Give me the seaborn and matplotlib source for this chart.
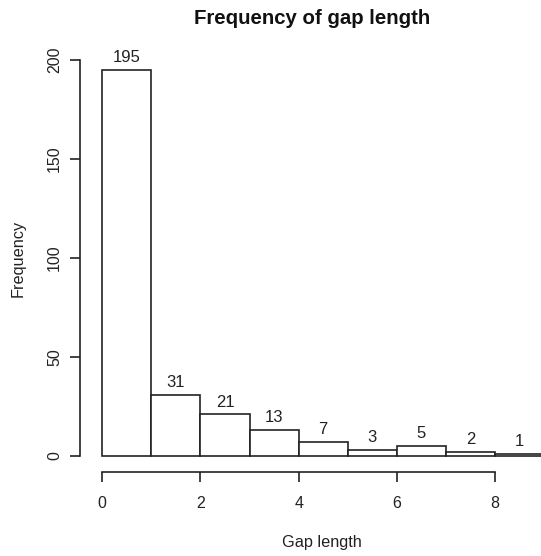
import numpy as np
import pandas as pd
import matplotlib
matplotlib.use("Agg")
import matplotlib.pyplot as plt
import seaborn as sns

# histogram counts for gap length, bins of width 1 from 0 to 9
bin_edges = [0, 1, 2, 3, 4, 5, 6, 7, 8, 9]
counts = [195, 31, 21, 13, 7, 3, 5, 2, 1]
x_ticks = [0, 2, 4, 6, 8]
y_ticks = [0, 50, 100, 150, 200]

sns.set_style("white")
plt.rcParams["font.family"] = ["Liberation Sans", "DejaVu Sans"]

W, H = 541, 556
fig = plt.figure(figsize=(W / 100, H / 100), dpi=100)
# R-style plot region (right side runs off the picture)
left, right, top, bottom = 80, 562, 54.5, 471.5
ax = fig.add_axes([left / W, 1 - bottom / H, (right - left) / W, (bottom - top) / H])

df = pd.DataFrame({
    "mid": [(a + b) / 2 for a, b in zip(bin_edges[:-1], bin_edges[1:])],
    "count": counts,
})
sns.histplot(data=df, x="mid", weights="count", bins=bin_edges, ax=ax,
             color="white", edgecolor="#222222", linewidth=1.2, alpha=1)

for m, c in zip(df["mid"], df["count"]):
    ax.text(m, c + 2.5, str(c), ha="center", va="bottom", fontsize=12, color="#222222")

ax.set_xlim(-0.45, 9.36)
ax.set_ylim(-7.8, 202.8)
ax.set_xticks(x_ticks)
ax.set_yticks(y_ticks)
ax.set_xlabel("")
ax.set_ylabel("")

for s in ["top", "right"]:
    ax.spines[s].set_visible(False)
for s in ["left", "bottom"]:
    ax.spines[s].set_color("#222222")
    ax.spines[s].set_linewidth(1.2)
ax.spines["left"].set_bounds(0, 200)
ax.spines["bottom"].set_bounds(0, 8)

ax.tick_params(axis="both", direction="out", length=7, width=1.2, color="#222222",
               labelsize=11.5, labelcolor="#222222", left=True, bottom=True)
ax.tick_params(axis="x", pad=11)
ax.tick_params(axis="y", pad=6)
for lab in ax.get_yticklabels():
    lab.set_rotation(90)
    lab.set_va("center")

fig.text(312 / W, 1 - 18 / H, "Frequency of gap length", ha="center", va="center",
         fontsize=14.7, fontweight="bold", color="#111111")
fig.text(322 / W, 1 - 543 / H, "Gap length", ha="center", va="center",
         fontsize=11.7, color="#222222")
fig.text(18 / W, 1 - 258 / H, "Frequency", ha="center", va="center", rotation=90,
         fontsize=11.7, color="#222222")

fig.savefig("out.png", dpi=100)
